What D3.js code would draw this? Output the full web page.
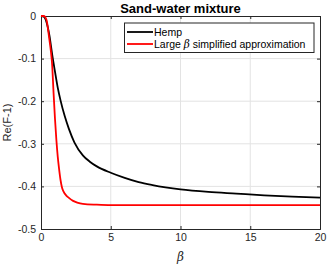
<!DOCTYPE html>
<html><head><meta charset="utf-8">
<script src="https://cdn.jsdelivr.net/npm/d3@7"></script>
<style>body{margin:0;background:#fff}svg{display:block;font-family:"Liberation Sans",Arial,sans-serif}</style>
</head><body>
<svg id="c" width="327" height="266"></svg>
<script>
const hempBeta = [0,0.2,0.4,0.6,0.8,1.0,1.2,1.4,1.7,2.0,2.4,3,3.5,4,5,6,7,8,10,12,14,16,18,20];
const hempVal  = [0,-0.002,-0.015,-0.045,-0.09,-0.13,-0.168,-0.198,-0.235,-0.265,-0.297,-0.327,-0.342,-0.353,-0.368,-0.38,-0.39,-0.397,-0.407,-0.413,-0.417,-0.421,-0.424,-0.4265];
const approxBeta = [0,0.2,0.4,0.5,0.6,0.7,0.8,0.9,1.0,1.1,1.2,1.3,1.4,1.5,1.6,1.8,2.0,2.3,2.6,3,4,5,10,20];
const approxVal  = [0,0,-0.01,-0.03,-0.055,-0.08,-0.115,-0.18,-0.24,-0.29,-0.33,-0.36,-0.385,-0.402,-0.411,-0.421,-0.427,-0.434,-0.438,-0.441,-0.443,-0.444,-0.444,-0.444];
const xTicks = [0,5,10,15,20];
const yTicks = [0,-0.1,-0.2,-0.3,-0.4,-0.5];
const seriesNames = ["Hemp","Large β simplified approximation"];
const title = "Sand-water mixture";

const svg = d3.select("#c");
const L=41,R=320,T=16,B=229;
const x = d3.scaleLinear().domain([0,20]).range([L,R]);
const y = d3.scaleLinear().domain([-0.5,0]).range([B,T]);
const axisCol="#262626", gridCol="#e3e3e3";

// grid
svg.append("g").selectAll("line").data(xTicks.slice(1,-1)).join("line")
  .attr("x1",d=>x(d)).attr("x2",d=>x(d)).attr("y1",T).attr("y2",B)
  .attr("stroke",gridCol).attr("stroke-width",1);
svg.append("g").selectAll("line").data(yTicks.slice(1,-1)).join("line")
  .attr("y1",d=>y(d)).attr("y2",d=>y(d)).attr("x1",L).attr("x2",R)
  .attr("stroke",gridCol).attr("stroke-width",1);

// axes
const fmt = d=> d===0?"0":String(d);
const gx = svg.append("g").attr("transform",`translate(0,${B})`)
  .call(d3.axisBottom(x).tickValues(xTicks).tickSize(-3).tickPadding(5).tickFormat(d3.format("d")));
const gxt = svg.append("g").attr("transform",`translate(0,${T})`)
  .call(d3.axisTop(x).tickValues(xTicks).tickSize(-3).tickFormat(""));
const gy = svg.append("g").attr("transform",`translate(${L},0)`)
  .call(d3.axisLeft(y).tickValues(yTicks).tickSize(-3).tickPadding(5).tickFormat(fmt));
const gyr = svg.append("g").attr("transform",`translate(${R},0)`)
  .call(d3.axisRight(y).tickValues(yTicks).tickSize(-3).tickFormat(""));
[gx,gxt,gy,gyr].forEach(g=>{
  g.selectAll("path").attr("stroke",axisCol).attr("stroke-width",1);
  g.selectAll("line").attr("stroke",axisCol);
  g.selectAll("text").attr("fill",axisCol).attr("font-size",10.5).attr("font-family","Liberation Sans, Arial, sans-serif");
});

// lines
const line = d3.line().curve(d3.curveMonotoneX);
svg.append("path").attr("d",line(hempBeta.map((b,i)=>[x(b),y(hempVal[i])])))
  .attr("fill","none").attr("stroke","#000").attr("stroke-width",1.8);
svg.append("path").attr("d",line(approxBeta.map((b,i)=>[x(b),y(approxVal[i])])))
  .attr("fill","none").attr("stroke","#ff0000").attr("stroke-width",1.8);

// title
svg.append("text").attr("x",(L+R)/2).attr("y",12.5).attr("text-anchor","middle")
  .attr("font-weight","bold").attr("font-size",13).attr("fill","#000").text(title);
// axis labels
svg.append("text").attr("x",(L+R)/2).attr("y",261).attr("text-anchor","middle")
  .attr("font-style","italic").attr("font-family","DejaVu Serif, serif").attr("font-size",12).attr("fill",axisCol).text("β");
svg.append("text").attr("transform",`translate(10.5,${(T+B)/2}) rotate(-90)`).attr("text-anchor","middle")
  .attr("font-size",11).attr("fill",axisCol).text("Re(F-1)");

// legend
const lg = svg.append("g");
lg.append("rect").attr("x",124.5).attr("y",23).attr("width",189.5).attr("height",29.5)
  .attr("fill","#fff").attr("stroke",axisCol).attr("stroke-width",1);
const rows=[{c:"#000",y:32},{c:"#ff0000",y:44}];
rows.forEach((r,i)=>{
  lg.append("line").attr("x1",127).attr("x2",153).attr("y1",r.y).attr("y2",r.y).attr("stroke",r.c).attr("stroke-width",1.8);
});
lg.append("text").attr("x",154).attr("y",35.5).attr("font-size",10.5).attr("fill","#000").text(seriesNames[0]);
const t2 = lg.append("text").attr("x",154).attr("y",48).attr("font-size",10.5).attr("fill","#000");
t2.append("tspan").text("Large ");
t2.append("tspan").attr("font-style","italic").attr("font-family","DejaVu Serif, serif").text("β");
t2.append("tspan").text(" simplified approximation");
</script>
</body></html>
